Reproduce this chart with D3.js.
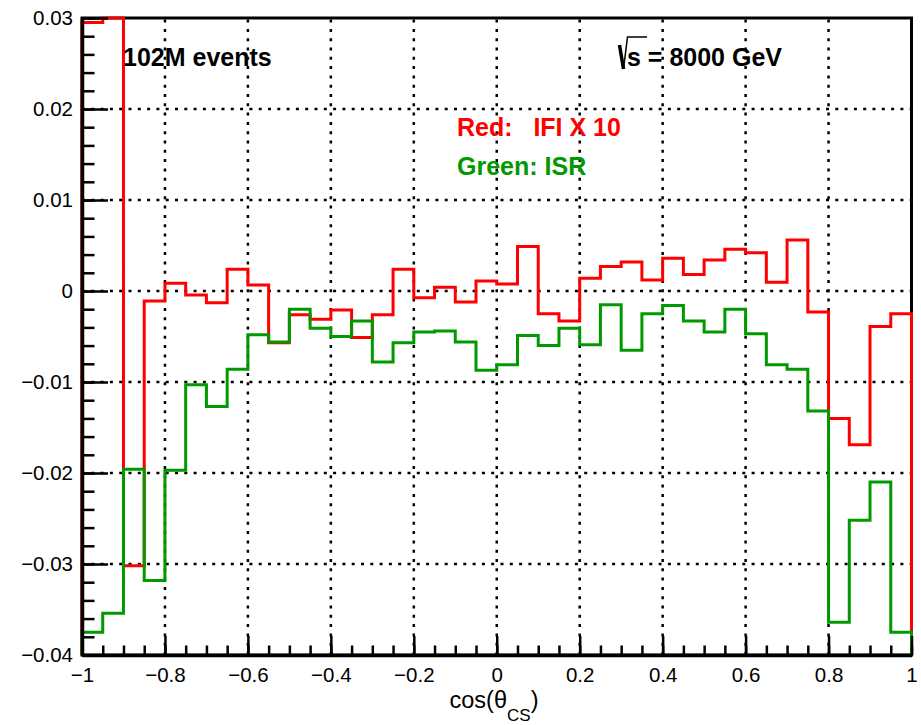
<!DOCTYPE html>
<html>
<head>
<meta charset="utf-8">
<script src="https://cdn.jsdelivr.net/npm/d3@7"></script>
<style>
  html, body { margin: 0; padding: 0; background: #fff; }
  svg { display: block; }
  text { font-family: "Liberation Sans", Arial, Helvetica, sans-serif; }
</style>
</head>
<body>
<svg id="chart" width="921" height="725"></svg>
<script>
// ---- data ----
const binEdges = d3.range(0, 41).map(i => -1 + i * 0.05);
const xTickValues = [-1, -0.8, -0.6, -0.4, -0.2, 0, 0.2, 0.4, 0.6, 0.8, 1];
const xTickLabels = ["\u22121", "\u22120.8", "\u22120.6", "\u22120.4", "\u22120.2", "0", "0.2", "0.4", "0.6", "0.8", "1"];
const yTickValues = [-0.04, -0.03, -0.02, -0.01, 0, 0.01, 0.02, 0.03];
const yTickLabels = ["\u22120.04", "\u22120.03", "\u22120.02", "\u22120.01", "0", "0.01", "0.02", "0.03"];

// Red: IFI x 10 (bin 2 goes off the top of the frame)
const redValues = [0.0295, 0.031, -0.0302, -0.0011, 0.00084, -0.00044, -0.0013, 0.0024, 0.00066, -0.0057,
  -0.0026, -0.0031, -0.0021, -0.0051, -0.0026, 0.0024, -0.00073, 0.0004, -0.0012, 0.0011,
  0.00077, 0.0049, -0.0025, -0.0033, 0.0014, 0.0027, 0.0032, 0.0012, 0.0036, 0.0018,
  0.0034, 0.0046, 0.0042, 0.00095, 0.0056, -0.0023, -0.0140, -0.0169, -0.0039, -0.0025];
// Green: ISR
const greenValues = [-0.0375, -0.0354, -0.0196, -0.0318, -0.0197, -0.0103, -0.0127, -0.0086, -0.0048, -0.0056,
  -0.0020, -0.0041, -0.0050, -0.0033, -0.0078, -0.0057, -0.0045, -0.0044, -0.0056, -0.0087,
  -0.0081, -0.0049, -0.0060, -0.0041, -0.0059, -0.0015, -0.0065, -0.0025, -0.0016, -0.0033,
  -0.0045, -0.0020, -0.0047, -0.0081, -0.0086, -0.0132, -0.0364, -0.0252, -0.0210, -0.0375];

// ---- layout ----
const L = 82, R = 911.5, T = 18, B = 655;
const svg = d3.select("#chart");
svg.append("rect").attr("width", 921).attr("height", 725).attr("fill", "#fff");

const x = d3.scaleLinear().domain([-1, 1]).range([L, R]);
const y = d3.scaleLinear().domain([-0.04, 0.03]).range([B, T]).clamp(true);

// grid
const grid = svg.append("g").attr("stroke", "#000").attr("stroke-width", 2.5)
  .attr("stroke-dasharray", "3,6.3").attr("fill", "none");
grid.selectAll("line.v").data(xTickValues.slice(1, -1)).join("line")
  .attr("x1", d => x(d)).attr("x2", d => x(d)).attr("y1", B).attr("y2", T);
grid.selectAll("line.h").data(yTickValues.slice(1, -1)).join("line")
  .attr("class", "h")
  .attr("x1", L).attr("x2", R).attr("y1", d => y(d)).attr("y2", d => y(d));

// frame
svg.append("rect").attr("x", L).attr("y", T).attr("width", R - L).attr("height", B - T)
  .attr("fill", "none").attr("stroke", "#000").attr("stroke-width", 3);

// histograms
function stepPath(vals) {
  const p = d3.path();
  p.moveTo(x(binEdges[0]), y(-0.04));
  vals.forEach((v, i) => {
    p.lineTo(x(binEdges[i]), y(v));
    p.lineTo(x(binEdges[i + 1]), y(v));
  });
  p.lineTo(x(binEdges[binEdges.length - 1]), y(-0.04));
  return p.toString();
}
svg.append("path").attr("d", stepPath(redValues)).attr("fill", "none")
  .attr("stroke", "#ff0000").attr("stroke-width", 3).attr("stroke-linejoin", "miter");
svg.append("path").attr("d", stepPath(greenValues)).attr("fill", "none")
  .attr("stroke", "#009900").attr("stroke-width", 3).attr("stroke-linejoin", "miter");

// y axis
const yMinor = d3.range(-0.04, 0.0301, 0.002).map(v => +v.toFixed(4));
svg.append("g").attr("transform", `translate(${L},0)`)
  .call(d3.axisLeft(y).tickValues(yMinor).tickSizeInner(-12.5).tickSizeOuter(0).tickFormat(""))
  .call(g => g.select(".domain").remove())
  .call(g => g.selectAll("line").attr("stroke", "#000").attr("stroke-width", 2.5));
const yAx = svg.append("g").attr("transform", `translate(${L},0)`)
  .call(d3.axisLeft(y).tickValues(yTickValues).tickSizeInner(-26).tickSizeOuter(0).tickPadding(9)
    .tickFormat((d, i) => yTickLabels[i]));
yAx.select(".domain").attr("stroke", "#000").attr("stroke-width", 3.5);
yAx.selectAll("line").attr("stroke", "#000").attr("stroke-width", 2.5);
yAx.selectAll("text").attr("font-size", 20.5).attr("fill", "#000")
  .attr("font-family", '"Liberation Sans", Arial, Helvetica, sans-serif');

// x axis
const xMinor = binEdges.map(v => +v.toFixed(3));
svg.append("g").attr("transform", `translate(0,${B})`)
  .call(d3.axisBottom(x).tickValues(xMinor).tickSizeInner(-9.5).tickSizeOuter(0).tickFormat(""))
  .call(g => g.select(".domain").remove())
  .call(g => g.selectAll("line").attr("stroke", "#000").attr("stroke-width", 2.5));
const xAx = svg.append("g").attr("transform", `translate(0,${B})`)
  .call(d3.axisBottom(x).tickValues(xTickValues).tickSizeInner(-19).tickSizeOuter(0).tickPadding(12)
    .tickFormat((d, i) => xTickLabels[i]));
xAx.select(".domain").attr("stroke", "#000").attr("stroke-width", 3.5);
xAx.selectAll("line").attr("stroke", "#000").attr("stroke-width", 2.5);
xAx.selectAll("text").attr("font-size", 20.5).attr("fill", "#000")
  .attr("font-family", '"Liberation Sans", Arial, Helvetica, sans-serif');

// axis title
const title = svg.append("text").attr("x", 494).attr("y", 708).attr("text-anchor", "middle")
  .attr("font-size", 23.5).attr("fill", "#000");
title.append("tspan").text("cos(\u03B8");
title.append("tspan").attr("font-size", 17).attr("dy", 13).text("CS");
title.append("tspan").attr("dy", -13).text(")");

// annotations
svg.append("text").attr("x", 123).attr("y", 66).attr("font-size", 25).attr("font-weight", "bold")
  .attr("fill", "#000").text("102M events");
svg.append("path").attr("d", "M619.5,45 L623.5,69").attr("stroke", "#000").attr("stroke-width", 3.5).attr("fill", "none");
svg.append("path").attr("d", "M623.5,69 L627.5,37 L647,37").attr("stroke", "#000").attr("stroke-width", 1.5).attr("fill", "none");
svg.append("text").attr("x", 627).attr("y", 66).attr("font-size", 25).attr("font-weight", "bold")
  .attr("fill", "#000").text("s = 8000 GeV");
svg.append("text").attr("x", 457).attr("y", 136).attr("font-size", 25).attr("font-weight", "bold")
  .attr("fill", "#ff0000").style("white-space", "pre").attr("xml:space", "preserve").text("Red:   IFI X 10");
svg.append("text").attr("x", 457).attr("y", 175).attr("font-size", 25).attr("font-weight", "bold")
  .attr("fill", "#009900").text("Green: ISR");
</script>
</body>
</html>
